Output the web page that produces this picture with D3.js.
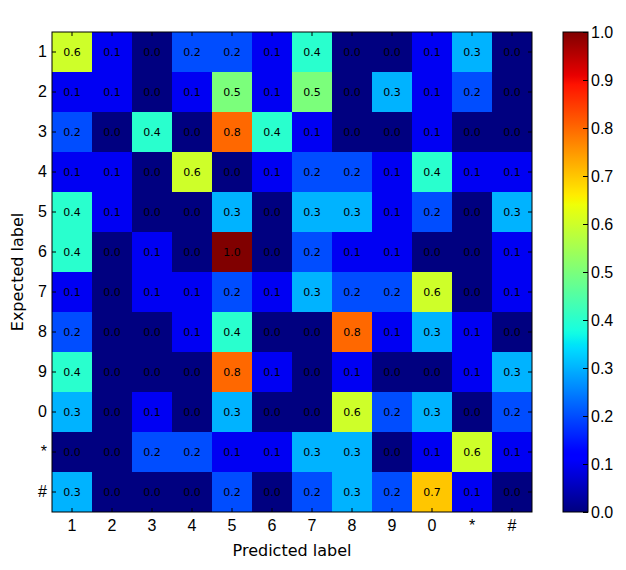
<!DOCTYPE html>
<html>
<head>
<meta charset="utf-8">
<script src="https://cdn.jsdelivr.net/npm/d3@7/dist/d3.min.js"></script>
<style>
  body { margin: 0; background: #fff; }
  svg { font-family: "DejaVu Sans", sans-serif; }
  .tick text { font-size: 16px; fill: #000; }
  .cell-label { font-size: 11px; fill: #000; }
  .axis-title { font-size: 16px; fill: #000; }
</style>
</head>
<body>
<svg id="chart" width="626" height="570"></svg>
<script>
const LABELS = ["1", "2", "3", "4", "5", "6", "7", "8", "9", "0", "*", "#"];
const CBAR_TICKS = [0, 0.1, 0.2, 0.3, 0.4, 0.5, 0.6, 0.7, 0.8, 0.9, 1.0];

// rows = expected label, columns = predicted label
const row1    = [0.6, 0.1, 0.0, 0.2, 0.2, 0.1, 0.4, 0.0, 0.0, 0.1, 0.3, 0.0];
const row2    = [0.1, 0.1, 0.0, 0.1, 0.5, 0.1, 0.5, 0.0, 0.3, 0.1, 0.2, 0.0];
const row3    = [0.2, 0.0, 0.4, 0.0, 0.8, 0.4, 0.1, 0.0, 0.0, 0.1, 0.0, 0.0];
const row4    = [0.1, 0.1, 0.0, 0.6, 0.0, 0.1, 0.2, 0.2, 0.1, 0.4, 0.1, 0.1];
const row5    = [0.4, 0.1, 0.0, 0.0, 0.3, 0.0, 0.3, 0.3, 0.1, 0.2, 0.0, 0.3];
const row6    = [0.4, 0.0, 0.1, 0.0, 1.0, 0.0, 0.2, 0.1, 0.1, 0.0, 0.0, 0.1];
const row7    = [0.1, 0.0, 0.1, 0.1, 0.2, 0.1, 0.3, 0.2, 0.2, 0.6, 0.0, 0.1];
const row8    = [0.2, 0.0, 0.0, 0.1, 0.4, 0.0, 0.0, 0.8, 0.1, 0.3, 0.1, 0.0];
const row9    = [0.4, 0.0, 0.0, 0.0, 0.8, 0.1, 0.0, 0.1, 0.0, 0.0, 0.1, 0.3];
const row0    = [0.3, 0.0, 0.1, 0.0, 0.3, 0.0, 0.0, 0.6, 0.2, 0.3, 0.0, 0.2];
const rowStar = [0.0, 0.0, 0.2, 0.2, 0.1, 0.1, 0.3, 0.3, 0.0, 0.1, 0.6, 0.1];
const rowHash = [0.3, 0.0, 0.0, 0.0, 0.2, 0.0, 0.2, 0.3, 0.2, 0.7, 0.1, 0.0];

const matrix = [row1, row2, row3, row4, row5, row6, row7, row8, row9, row0, rowStar, rowHash];

const PLOT = { left: 52, top: 32, size: 480 };
const CBAR = { left: 563, width: 25 };

// matplotlib "jet" segment data
const JET = {
  r: [[0, 0], [0.35, 0], [0.66, 1], [0.89, 1], [1, 0.5]],
  g: [[0, 0], [0.125, 0], [0.375, 1], [0.64, 1], [0.91, 0], [1, 0]],
  b: [[0, 0.5], [0.11, 1], [0.34, 1], [0.65, 0], [1, 0]]
};
function seg(pts, t) {
  const s = d3.scaleLinear().domain(pts.map(p => p[0])).range(pts.map(p => p[1])).clamp(true);
  return s(t);
}
function jet(t) {
  return d3.rgb(seg(JET.r, t) * 255, seg(JET.g, t) * 255, seg(JET.b, t) * 255).formatHex();
}

const color = d3.scaleSequential().domain([0, 1]).interpolator(jet);

const svg = d3.select("#chart");

const x = d3.scaleBand().domain(LABELS).range([PLOT.left, PLOT.left + PLOT.size]);
const y = d3.scaleBand().domain(LABELS).range([PLOT.top, PLOT.top + PLOT.size]);

const cells = [];
matrix.forEach((row, ri) => row.forEach((v, ci) => cells.push({ r: LABELS[ri], c: LABELS[ci], v })));

svg.append("g").selectAll("rect")
  .data(cells)
  .join("rect")
  .attr("x", d => x(d.c))
  .attr("y", d => y(d.r))
  .attr("width", x.bandwidth())
  .attr("height", y.bandwidth())
  .attr("fill", d => color(d.v));

svg.append("g").selectAll("text")
  .data(cells)
  .join("text")
  .attr("class", "cell-label")
  .attr("x", d => x(d.c) + x.bandwidth() / 2)
  .attr("y", d => y(d.r) + y.bandwidth() / 2)
  .attr("dy", "0.35em")
  .attr("text-anchor", "middle")
  .text(d => d.v.toFixed(1));

// axes, ticks inward like matplotlib classic
const axBottom = svg.append("g")
  .attr("transform", `translate(0,${PLOT.top + PLOT.size})`)
  .call(d3.axisBottom(x).tickSize(-4).tickPadding(8));
const axTop = svg.append("g")
  .attr("transform", `translate(0,${PLOT.top})`)
  .call(d3.axisTop(x).tickSize(-4).tickFormat(""));
const axLeft = svg.append("g")
  .attr("transform", `translate(${PLOT.left},0)`)
  .call(d3.axisLeft(y).tickSize(-4).tickPadding(5));
const axRight = svg.append("g")
  .attr("transform", `translate(${PLOT.left + PLOT.size},0)`)
  .call(d3.axisRight(y).tickSize(-4).tickFormat(""));

[axBottom, axTop, axLeft, axRight].forEach(g => {
  g.select(".domain").remove();
  g.selectAll(".tick line").attr("stroke", "#000");
  g.selectAll(".tick text").attr("font-family", null).attr("font-size", null);
});

svg.append("rect")
  .attr("x", PLOT.left).attr("y", PLOT.top)
  .attr("width", PLOT.size).attr("height", PLOT.size)
  .attr("fill", "none").attr("stroke", "#000").attr("stroke-width", 1);

svg.append("text")
  .attr("class", "axis-title")
  .attr("x", PLOT.left + PLOT.size / 2)
  .attr("y", 556)
  .attr("text-anchor", "middle")
  .text("Predicted label");

svg.append("text")
  .attr("class", "axis-title")
  .attr("transform", `translate(23,${PLOT.top + PLOT.size / 2}) rotate(-90)`)
  .attr("text-anchor", "middle")
  .text("Expected label");

// colorbar
const cy = d3.scaleLinear().domain([0, 1]).range([PLOT.top + PLOT.size, PLOT.top]);

const grad = svg.append("defs").append("linearGradient")
  .attr("id", "jet-grad")
  .attr("x1", 0).attr("y1", 1).attr("x2", 0).attr("y2", 0);
grad.selectAll("stop")
  .data(d3.range(0, 1.0001, 0.01))
  .join("stop")
  .attr("offset", d => `${d * 100}%`)
  .attr("stop-color", d => color(d));

svg.append("rect")
  .attr("x", CBAR.left).attr("y", PLOT.top)
  .attr("width", CBAR.width).attr("height", PLOT.size)
  .attr("fill", "url(#jet-grad)");

const cbAxis = svg.append("g")
  .attr("transform", `translate(${CBAR.left + CBAR.width},0)`)
  .call(d3.axisRight(cy).tickValues(CBAR_TICKS).tickFormat(d3.format(".1f")).tickSize(-5).tickPadding(3));
cbAxis.select(".domain").remove();
cbAxis.selectAll(".tick line").attr("stroke", "#000");
cbAxis.selectAll(".tick text").attr("font-family", null).attr("font-size", null);

svg.append("rect")
  .attr("x", CBAR.left).attr("y", PLOT.top)
  .attr("width", CBAR.width).attr("height", PLOT.size)
  .attr("fill", "none").attr("stroke", "#000").attr("stroke-width", 1);
</script>
</body>
</html>
